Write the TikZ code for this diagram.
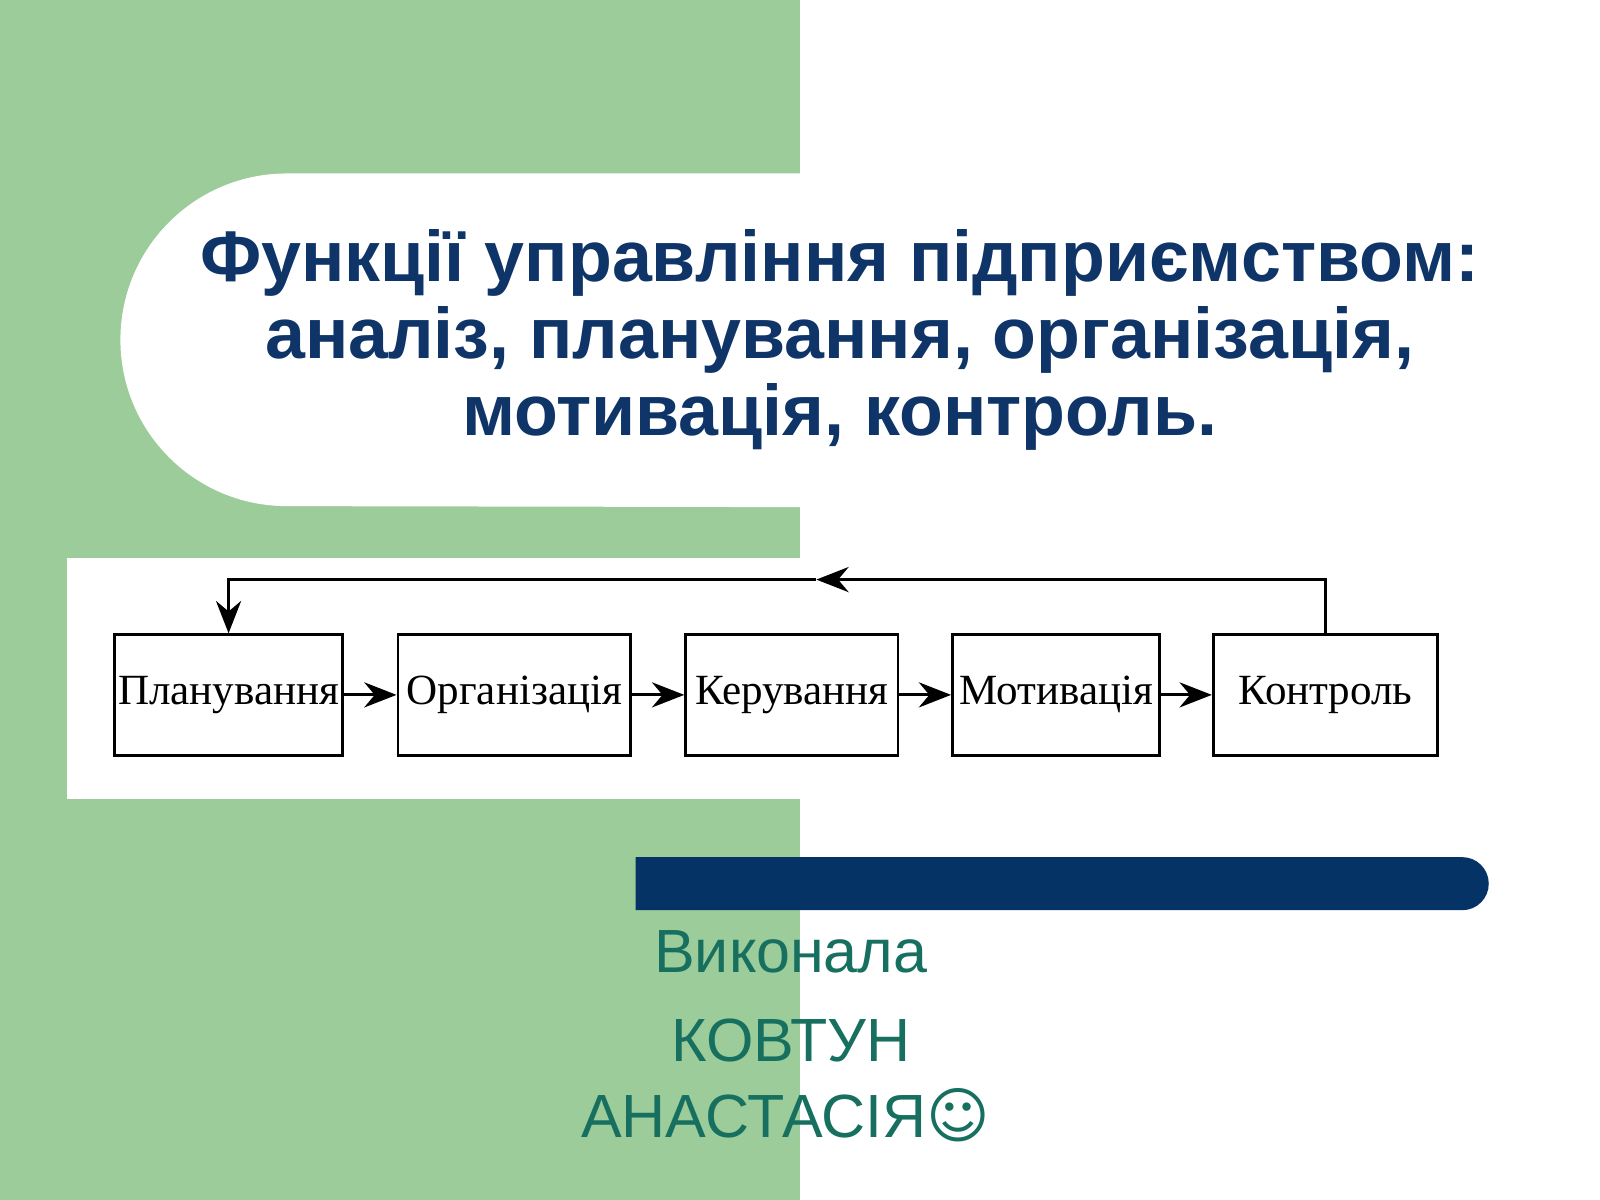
\documentclass[tikz,border=0pt]{standalone}
\usepackage{fontspec}
\setmainfont{Liberation Sans}
\newfontfamily\serifbox{Liberation Serif}
\newfontfamily\symfont{DejaVu Sans}
\usetikzlibrary{arrows.meta,positioning}
\definecolor{panelgreen}{HTML}{9BCC99}
\definecolor{titleblue}{HTML}{0E3468}
\definecolor{barblue}{HTML}{063366}
\definecolor{authorteal}{HTML}{17705F}
\begin{document}
\begin{tikzpicture}[x=0.01cm,y=-0.01cm]

\tikzset{line/.style={draw,thick}}
\tikzset{arrow/.style={line,-{Stealth[length=9pt,width=7pt]}}}
\tikzset{stage/.style={line,rectangle,minimum height=118*0.01cm,inner sep=0pt,font=\serifbox\fontsize{12}{14}\selectfont}}
\tikzset{author/.style={text=authorteal,font=\fontsize{17}{20}\selectfont}}

\useasboundingbox (0,0) rectangle (1568,1176);
\fill[white] (0,0) rectangle (1568,1176);
\fill[panelgreen] (0,0) rectangle (784,1176);
\fill[white] (784,170) -- (281,170) arc[start angle=270,end angle=90,radius=163] -- (784,497) -- cycle;

\node[text=titleblue,font=\bfseries\fontsize{20}{21.5}\selectfont,align=center] (title) at (823,333)
  {Функції управління підприємством:\\аналіз, планування, організація,\\мотивація, контроль.};

\fill[white] (66,547) rectangle (1568,783);
\node[stage,minimum width=224*0.01cm] (s1) at (224,681) {Планування};
\node[stage,minimum width=228*0.01cm] (s2) at (504,681) {Організація};
\node[stage,minimum width=208*0.01cm] (s3) at (776,681) {Керування};
\node[stage,minimum width=203*0.01cm] (s4) at (1035,681) {Мотивація};
\node[stage,minimum width=220*0.01cm] (s5) at (1299,681) {Контроль};
\coordinate (back) at (800,568);

\path[arrow] (s1) to (s2);
\path[arrow] (s2) to (s3);
\path[arrow] (s3) to (s4);
\path[arrow] (s4) to (s5);
\path[arrow] (s5.north) |- (back);
\path[arrow] (back) -| (s1.north);

\fill[barblue] (623,840) -- (1433,840) arc[start angle=-90,end angle=90,radius=26] -- (623,892) -- cycle;

\node[author] (role) at (775,933) {Виконала};
\node[author] (surname) at (775,1020) {КОВТУН};
\node[author] (name) at (770,1093) {АНАСТАСІЯ{\symfont ☺}};

\end{tikzpicture}
\end{document}
